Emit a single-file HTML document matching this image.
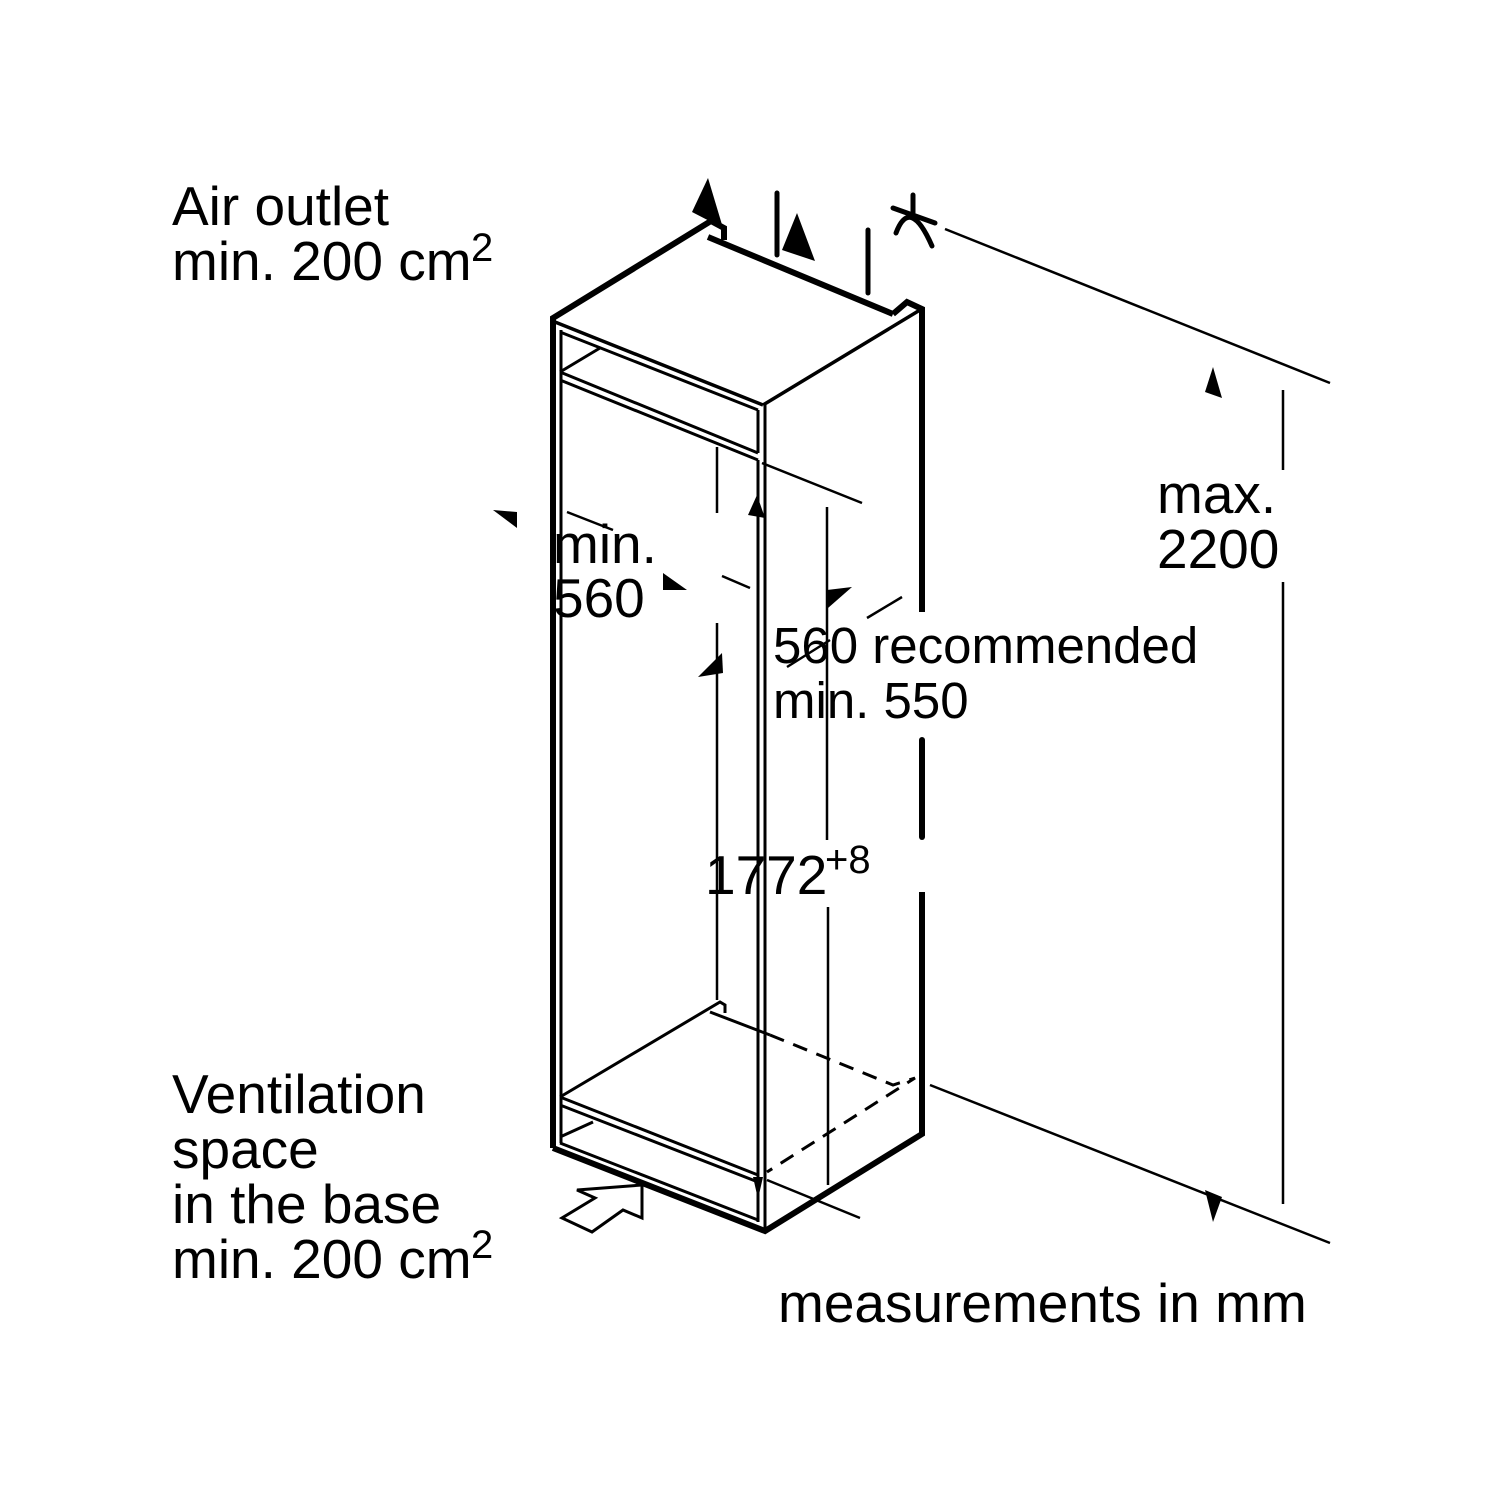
<!DOCTYPE html>
<html><head><meta charset="utf-8"><style>
html,body{margin:0;padding:0;background:#fff;}
svg{display:block;}
text{font-family:"Liberation Sans",Arial,sans-serif;fill:#000;}
</style></head><body>
<svg width="1500" height="1500" viewBox="0 0 1500 1500" xmlns="http://www.w3.org/2000/svg">
<rect width="1500" height="1500" fill="#fff"/>
<g fill="none" stroke="#000" stroke-linejoin="miter" stroke-linecap="butt">
  <!-- outer thick lines -->
  <polyline points="553,1148 553,318 711,221 724,228 724,240" stroke-width="6"/>
  <line x1="708" y1="237" x2="893" y2="314" stroke-width="6"/>
  <polyline points="893,314 907,302 922,309 922,612" stroke-width="6"/>
  <line x1="922" y1="740" x2="922" y2="837" stroke-width="6" stroke-linecap="round"/>
  <polyline points="922,892 922,1134 765,1231 553,1148" stroke-width="6"/>
  <!-- top box -->
  <line x1="555" y1="322" x2="763" y2="405" stroke-width="3.5"/>
  <line x1="763" y1="405" x2="920" y2="310" stroke-width="3.5"/>
  <line x1="560" y1="332" x2="758" y2="410" stroke-width="3"/>
  <line x1="560" y1="372" x2="758" y2="453" stroke-width="3"/>
  <line x1="560" y1="380" x2="758" y2="460" stroke-width="3"/>
  <line x1="560" y1="372" x2="600" y2="348" stroke-width="3"/>
  <line x1="758" y1="410" x2="758" y2="453" stroke-width="3"/>
  <!-- inner left vertical -->
  <line x1="561" y1="330" x2="561" y2="1143" stroke-width="3"/>
  <!-- front right verticals -->
  <line x1="758" y1="460" x2="758" y2="1222" stroke-width="3"/>
  <line x1="765" y1="405" x2="765" y2="1231" stroke-width="3"/>
  <!-- bottom -->
  <line x1="560" y1="1097" x2="758" y2="1175" stroke-width="3"/>
  <line x1="560" y1="1105" x2="758" y2="1182" stroke-width="3"/>
  <line x1="560" y1="1143" x2="758" y2="1220" stroke-width="3"/>
  <line x1="560" y1="1137" x2="593" y2="1122" stroke-width="3"/>
  <polyline points="560,1097 720,1002 725,1005 725,1013" stroke-width="3"/>
  <line x1="710" y1="1012" x2="770" y2="1035" stroke-width="3"/>
  <polyline points="770,1035 893,1085 915,1078 767,1172" stroke-width="3" stroke-dasharray="15,10"/>
  <!-- vent arrow -->
  <polygon points="577,1190 642,1185 642,1218 623,1210 592,1232 562,1218 595,1198" stroke-width="3" fill="#fff"/>
  <!-- dimension lines -->
  <line x1="717" y1="447" x2="717" y2="513" stroke-width="2.5"/>
  <line x1="717" y1="623" x2="717" y2="1000" stroke-width="2.5"/>
  <line x1="827" y1="507" x2="827" y2="840" stroke-width="2.5"/>
  <line x1="828" y1="907" x2="828" y2="1185" stroke-width="2.5"/>
  <line x1="762" y1="463" x2="862" y2="503" stroke-width="2.5"/>
  <line x1="567" y1="512" x2="613" y2="530" stroke-width="2.5"/>
  <line x1="722" y1="576" x2="750" y2="588" stroke-width="2.5"/>
  <line x1="867" y1="618" x2="902" y2="597" stroke-width="2.5"/>
  <line x1="787" y1="667" x2="830" y2="640" stroke-width="2.5"/>
  <line x1="767" y1="1180" x2="860" y2="1218" stroke-width="2.5"/>
  <line x1="945" y1="229" x2="1330" y2="383" stroke-width="2.5"/>
  <line x1="930" y1="1085" x2="1330" y2="1243" stroke-width="2.5"/>
  <line x1="1283" y1="390" x2="1283" y2="470" stroke-width="2.5"/>
  <line x1="1283" y1="582" x2="1283" y2="1204" stroke-width="2.5"/>
  <!-- top symbols -->
  <line x1="777" y1="193" x2="777" y2="255" stroke-width="5" stroke-linecap="round"/>
  <line x1="868" y1="230" x2="868" y2="293" stroke-width="5" stroke-linecap="round"/>
  <line x1="893" y1="208" x2="935" y2="223" stroke-width="5" stroke-linecap="round"/>
  <line x1="913" y1="195" x2="913" y2="213" stroke-width="5" stroke-linecap="round"/>
  <path d="M896,233 Q910,196 932,246" stroke-width="5" stroke-linecap="round"/>
</g>
<g fill="#000" stroke="none">
  <polygon points="708,178 692,212 723,228"/>
  <polygon points="797,213 782,250 815,261"/>
  <polygon points="493,510 517,512 517,528"/>
  <polygon points="663,573 687,590 663,590"/>
  <polygon points="757,495 748,515 765,518"/>
  <polygon points="698,677 722,653 723,673"/>
  <polygon points="827,590 852,587 828,608"/>
  <polygon points="753,1177 763,1177 758,1199"/>
  <polygon points="1213,367 1205,392 1222,398"/>
  <polygon points="1205,1190 1222,1197 1213,1222"/>
</g>
<g font-size="55">
  <text x="172" y="225">Air outlet</text>
  <text x="172" y="280">min. 200 cm</text>
  <text x="471" y="261" font-size="40">2</text>
  <text x="172" y="1113">Ventilation</text>
  <text x="172" y="1168">space</text>
  <text x="172" y="1223">in the base</text>
  <text x="172" y="1278">min. 200 cm</text>
  <text x="471" y="1258" font-size="40">2</text>
  <text x="1157" y="513">max.</text>
  <text x="1157" y="568">2200</text>
  <text x="553" y="563">min.</text>
  <text x="553" y="617">560</text>
  <text x="773" y="663" font-size="51">560 recommended</text>
  <text x="773" y="718" font-size="51">min. 550</text>
  <text x="705" y="894">1772</text>
  <text x="825" y="873" font-size="40">+8</text>
  <text x="778" y="1322">measurements in mm</text>
</g>
</svg>
</body></html>
